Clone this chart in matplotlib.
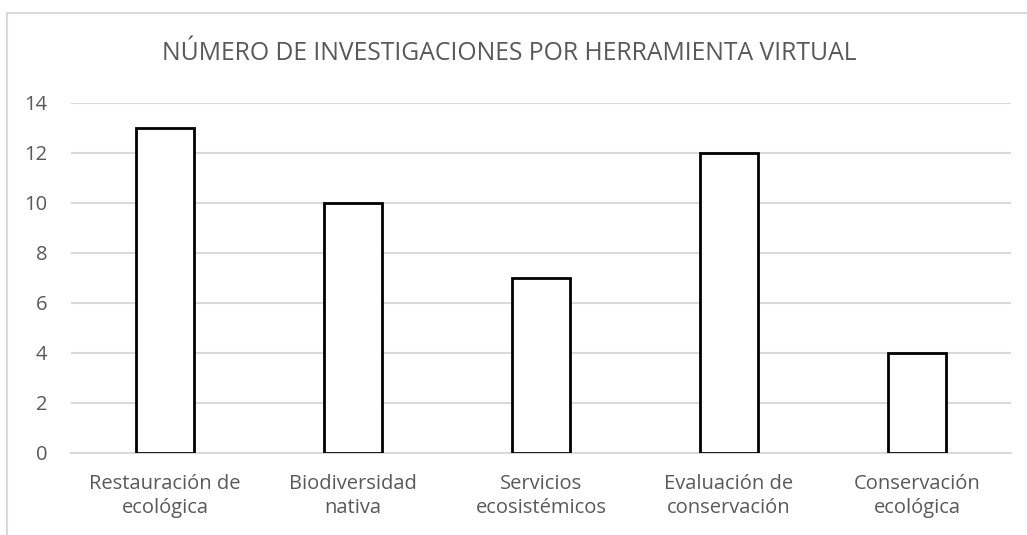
import matplotlib
matplotlib.use("Agg")
import matplotlib.pyplot as plt
from matplotlib.patches import Rectangle

# ___DATA___ #
categories = ["Restauración de\necológica", "Biodiversidad\nnativa", "Servicios\necosistémicos",
              "Evaluación de\nconservación", "Conservación\necológica"]
counts = [13, 10, 7, 12, 4]
yticks = [0, 2, 4, 6, 8, 10, 12, 14]
title = "NÚMERO DE INVESTIGACIONES POR HERRAMIENTA VIRTUAL"

textColor = "#595959"
gridColor = "#d9d9d9"
plt.rcParams["font.family"] = ["Open Sans", "DejaVu Sans"]

fig = plt.figure(figsize=(10.27, 5.35), dpi=100)
ax = fig.add_axes([0.0691, 0.1533, 0.9153, 0.6542])

# Light gray chart border (only top and left show in the picture)
fig.patches.append(Rectangle((7 / 1027, -0.1), 1.2, 1 - 13 / 535 + 0.1,
                             transform=fig.transFigure, fill=False,
                             edgecolor=gridColor, linewidth=1.5))

xPositions = list(range(len(categories)))
ax.bar(xPositions, counts, width=0.31, color="white", edgecolor="black", linewidth=2, zorder=3)

ax.set_xlim(-0.5, len(categories) - 0.5)
ax.set_ylim(0, 14)
ax.set_yticks(yticks)
ax.set_xticks(xPositions)
ax.set_xticklabels(categories, fontsize=14.5, color=textColor, linespacing=1.3)
ax.tick_params(axis="y", labelsize=14.5, labelcolor=textColor, length=0, pad=17)
ax.tick_params(axis="x", length=0, pad=15)

ax.grid(axis="y", color=gridColor, linewidth=1.5, zorder=0)
for side in ["top", "right", "left"]:
    ax.spines[side].set_visible(False)
ax.spines["bottom"].set_color(gridColor)
ax.spines["bottom"].set_linewidth(1.5)

fig.text(509 / 1027, 1 - 53 / 535, title, ha="center", va="center", fontsize=17.8, color=textColor)

fig.savefig("out.png", dpi=100)
